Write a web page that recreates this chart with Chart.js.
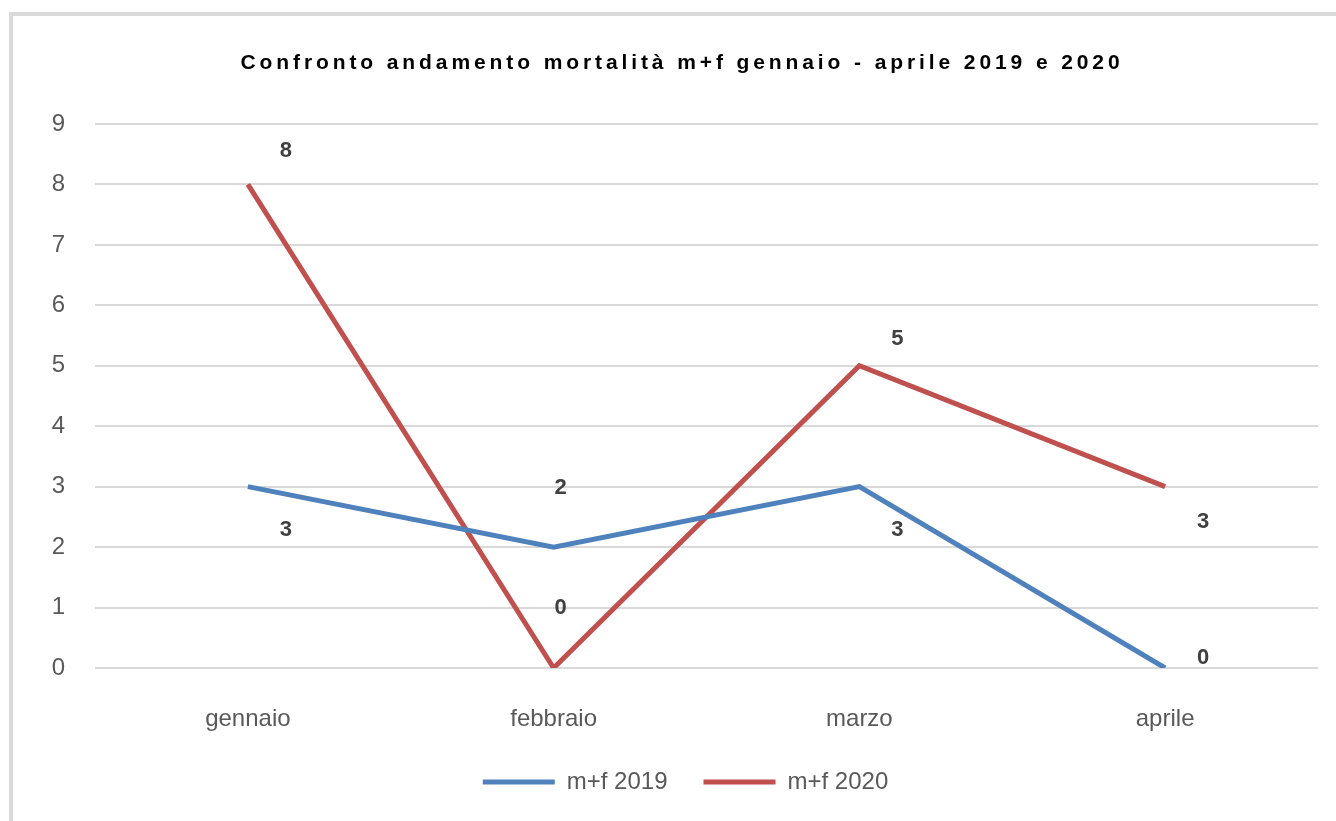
<!DOCTYPE html>
<html>
<head>
<meta charset="utf-8">
<script src="https://cdn.jsdelivr.net/npm/chart.js@4.4.0/dist/chart.umd.min.js"></script>
<style>
  html, body { margin: 0; padding: 0; background: #fff; overflow: hidden; }
  #frame {
    position: absolute; left: 9px; top: 12px;
    width: 1340px; height: 820px;
    border-left: 4px solid #d9d9d9; border-top: 4px solid #d9d9d9;
  }
  #wrap { position: absolute; left: 0; top: 0; width: 1330px; height: 810px; }
</style>
</head>
<body>
<div id="frame"><div id="wrap"><canvas id="myLineChart"></canvas></div></div>
<script>
// data
var titolo = "Confronto andamento mortalità m+f gennaio - aprile 2019 e 2020";
var mesi = ["gennaio", "febbraio", "marzo", "aprile"];
var mf2019 = [3, 2, 3, 0];
var mf2020 = [8, 0, 5, 3];
var yTicks = [0, 1, 2, 3, 4, 5, 6, 7, 8, 9];

// where each value label sits relative to its point (px)
var offs2019 = [[38, 43], [7, -59], [38, 43], [38, -10]];
var offs2020 = [[38, -34], [7, -60], [38, -27], [38, 35]];

var fontName = "'Liberation Sans', Arial, sans-serif";

// spaced-out title, like the original
var spacedTitle = {
  id: "spacedTitle",
  afterDraw: function(chart) {
    var ctx = chart.ctx;
    ctx.save();
    ctx.font = "bold 21px " + fontName;
    ctx.letterSpacing = "3.9px";
    ctx.fillStyle = "#000";
    ctx.textAlign = "center";
    ctx.textBaseline = "middle";
    ctx.fillText(titolo, 669, 47);
    ctx.restore();
  }
};

// legend sits a bit right of the centre in the original
var nudgeLegend = {
  id: "nudgeLegend",
  afterLayout: function(chart) {
    if (chart.legend) {
      chart.legend.left += 20;
      chart.legend.right += 20;
    }
  }
};

// value labels, Excel style
var valueLabels = {
  id: "valueLabels",
  afterDatasetsDraw: function(chart) {
    var ctx = chart.ctx;
    var allOffs = [offs2019, offs2020];
    ctx.save();
    ctx.font = "bold 22px " + fontName;
    ctx.fillStyle = "#404040";
    ctx.textAlign = "center";
    ctx.textBaseline = "middle";
    chart.data.datasets.forEach(function(ds, di) {
      var meta = chart.getDatasetMeta(di);
      meta.data.forEach(function(pt, i) {
        var o = allOffs[di][i];
        ctx.fillText(String(ds.data[i]), pt.x + o[0], pt.y + o[1]);
      });
    });
    ctx.restore();
  }
};

var data = {
  labels: mesi,
  datasets: [{
      label: "m+f 2019",
      data: mf2019,
      borderColor: "#4f81bd",
      backgroundColor: "#4f81bd",
      borderWidth: 5,
      pointRadius: 0,
      tension: 0,
      fill: false
    },
    {
      label: "m+f 2020",
      data: mf2020,
      borderColor: "#c0504d",
      backgroundColor: "#c0504d",
      borderWidth: 5,
      pointRadius: 0,
      tension: 0,
      fill: false
    }]
};

var options = {
  responsive: true,
  maintainAspectRatio: false,
  animation: false,
  layout: { padding: { left: 0, right: 25, top: 108, bottom: 22 } },
  plugins: {
    title: { display: false },
    legend: {
      display: true,
      position: "bottom",
      labels: {
        usePointStyle: true,
        pointStyle: "line",
        pointStyleWidth: 72,
        color: "#595959",
        font: { family: fontName, size: 24 },
        padding: 36
      }
    },
    tooltip: { enabled: false }
  },
  scales: {
    x: {
      offset: true,
      afterFit: function(scale) { scale.height = 66; },
      grid: { display: false, drawTicks: false },
      border: { display: false },
      ticks: { color: "#595959", font: { family: fontName, size: 24 }, padding: 37 }
    },
    y: {
      min: 0,
      max: 9,
      afterBuildTicks: function(scale) {
        scale.ticks = yTicks.map(function(v) { return { value: v }; });
      },
      afterFit: function(scale) { scale.width = 82; },
      grid: { color: "#d9d9d9", lineWidth: 2, drawTicks: false },
      border: { display: false },
      ticks: { color: "#595959", font: { family: fontName, size: 24 }, padding: 30 }
    }
  }
};

var ctx = document.getElementById("myLineChart");
var chart = new Chart(ctx, {
  type: "line",
  data: data,
  options: options,
  plugins: [valueLabels, spacedTitle, nudgeLegend]
});
</script>
</body>
</html>
